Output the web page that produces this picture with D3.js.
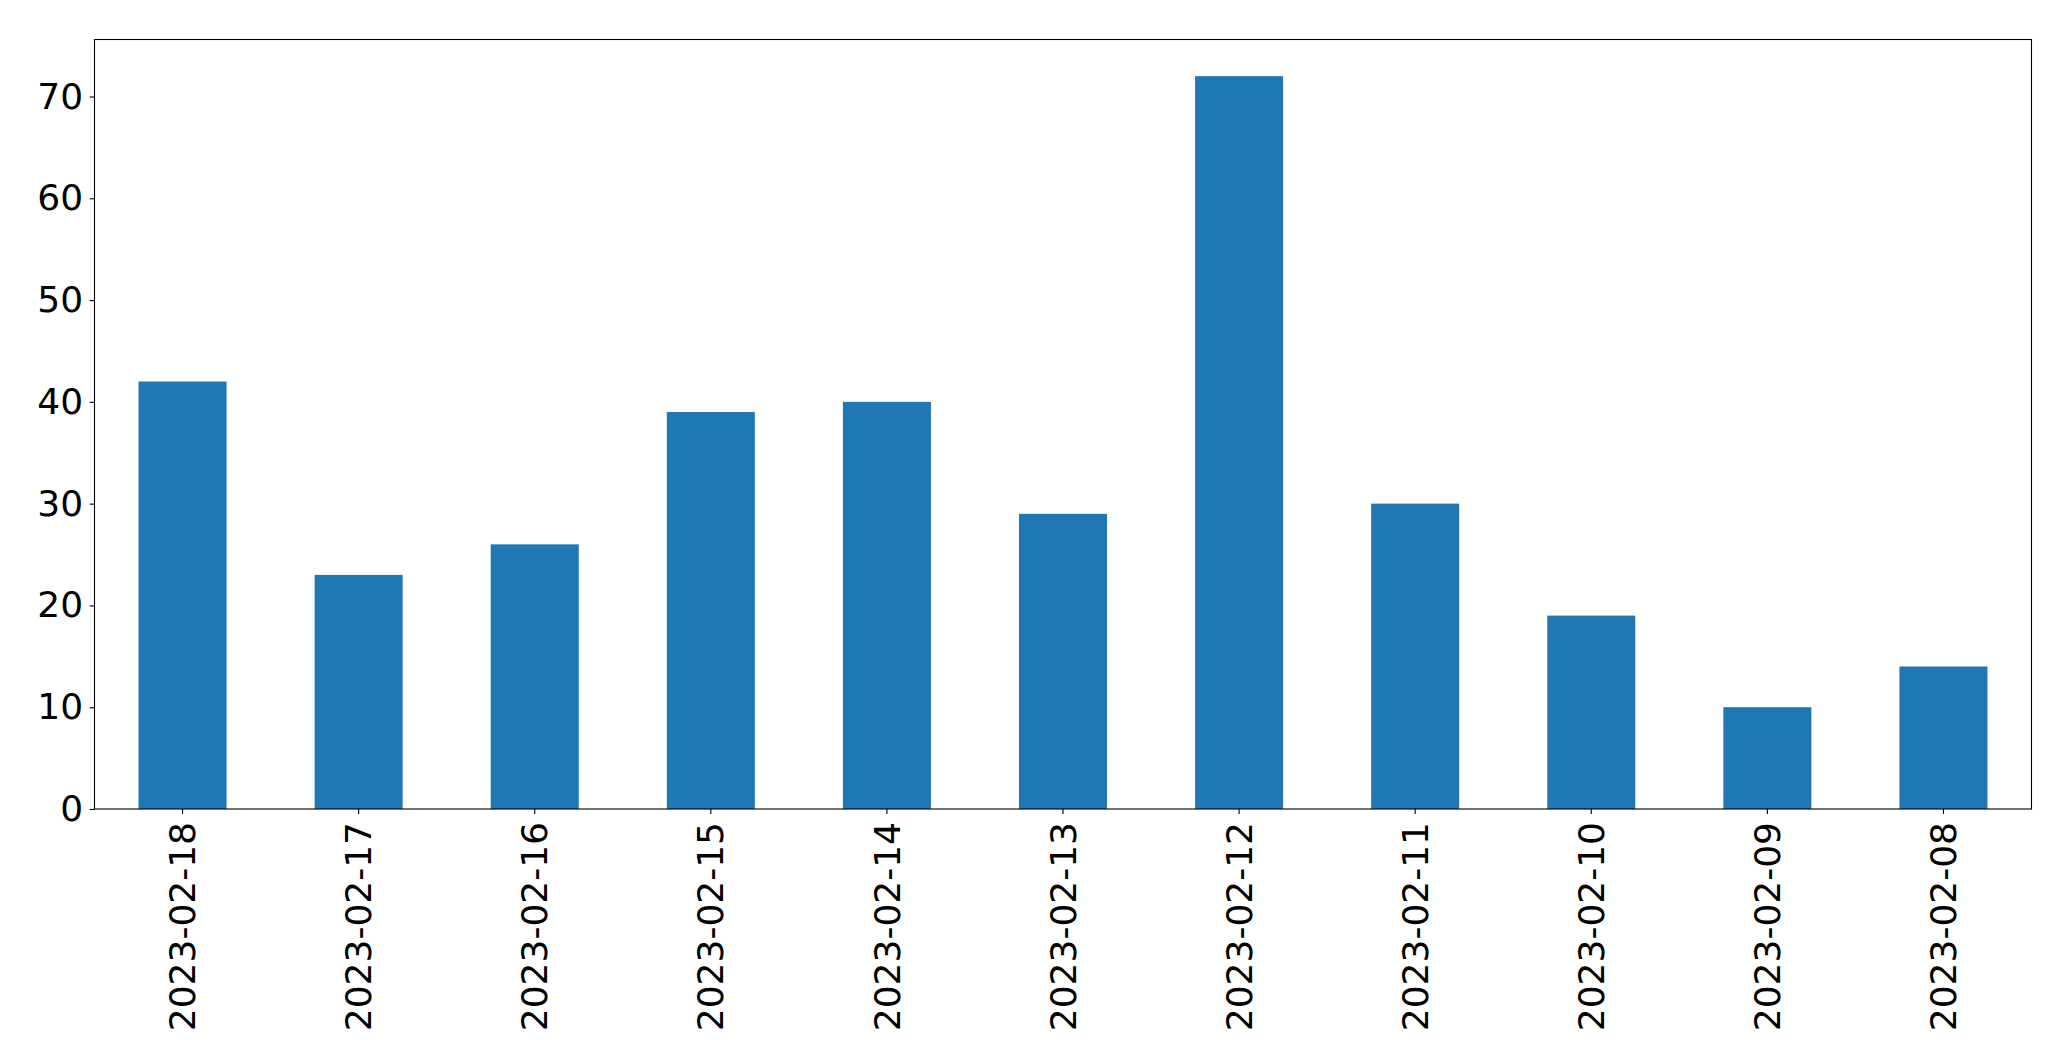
<!DOCTYPE html>
<html>
<head>
<meta charset="utf-8">
<script src="https://cdn.jsdelivr.net/npm/d3@7"></script>
<style>
  html, body { margin: 0; padding: 0; background: #fff; }
  svg { display: block; }
  text { font-family: "DejaVu Sans", sans-serif; fill: #000; }
</style>
</head>
<body>
<svg id="chart" width="2071" height="1061"></svg>
<script>
const categories = ["2023-02-18","2023-02-17","2023-02-16","2023-02-15","2023-02-14","2023-02-13","2023-02-12","2023-02-11","2023-02-10","2023-02-09","2023-02-08"];
const values = [42, 23, 26, 39, 40, 29, 72, 30, 19, 10, 14];
const yTicks = [0, 10, 20, 30, 40, 50, 60, 70];

const W = 2071, H = 1061;
const margin = {left: 94.5, right: W - 2031.5, top: 39.5, bottom: H - 809};
const svg = d3.select("#chart");
const g = svg.append("g");

const x = d3.scaleBand()
  .domain(categories)
  .range([margin.left, W - margin.right])
  .paddingInner(0.5)
  .paddingOuter(0.25);

const yMax = d3.max(values) * 1.05;
const y = d3.scaleLinear().domain([0, yMax]).range([H - margin.bottom, margin.top]);

g.selectAll("rect.bar")
  .data(values)
  .join("rect")
  .attr("class", "bar")
  .attr("x", (d, i) => x(categories[i]))
  .attr("width", x.bandwidth())
  .attr("y", d => y(d))
  .attr("height", d => y(0) - y(d))
  .attr("fill", "#1f77b4");

const fontSize = 36;

// y axis
const yAxis = g.append("g")
  .attr("transform", `translate(${margin.left},0)`)
  .call(d3.axisLeft(y).tickValues(yTicks).tickSize(4.9).tickPadding(6.5).tickFormat(d3.format("d")));
yAxis.select(".domain").remove();
yAxis.selectAll("line").attr("stroke", "#000").attr("stroke-width", 1.1);
yAxis.selectAll("text").attr("font-size", fontSize).attr("font-family", "DejaVu Sans").attr("fill", "#000");

// x axis
const xAxis = g.append("g")
  .attr("transform", `translate(0,${H - margin.bottom})`)
  .call(d3.axisBottom(x).tickSize(4.9).tickPadding(0));
xAxis.select(".domain").remove();
xAxis.selectAll("line").attr("stroke", "#000").attr("stroke-width", 1.1);
xAxis.selectAll("text")
  .attr("font-size", fontSize)
  .attr("font-family", "DejaVu Sans")
  .attr("fill", "#000")
  .attr("text-anchor", "end")
  .attr("dy", "0.35em")
  .attr("transform", "translate(0,13) rotate(-90)")
  .attr("x", 0)
  .attr("y", 0);

// frame
g.append("rect")
  .attr("x", margin.left)
  .attr("y", margin.top)
  .attr("width", W - margin.right - margin.left)
  .attr("height", H - margin.bottom - margin.top)
  .attr("fill", "none")
  .attr("stroke", "#000")
  .attr("stroke-width", 1.1);
</script>
</body>
</html>
